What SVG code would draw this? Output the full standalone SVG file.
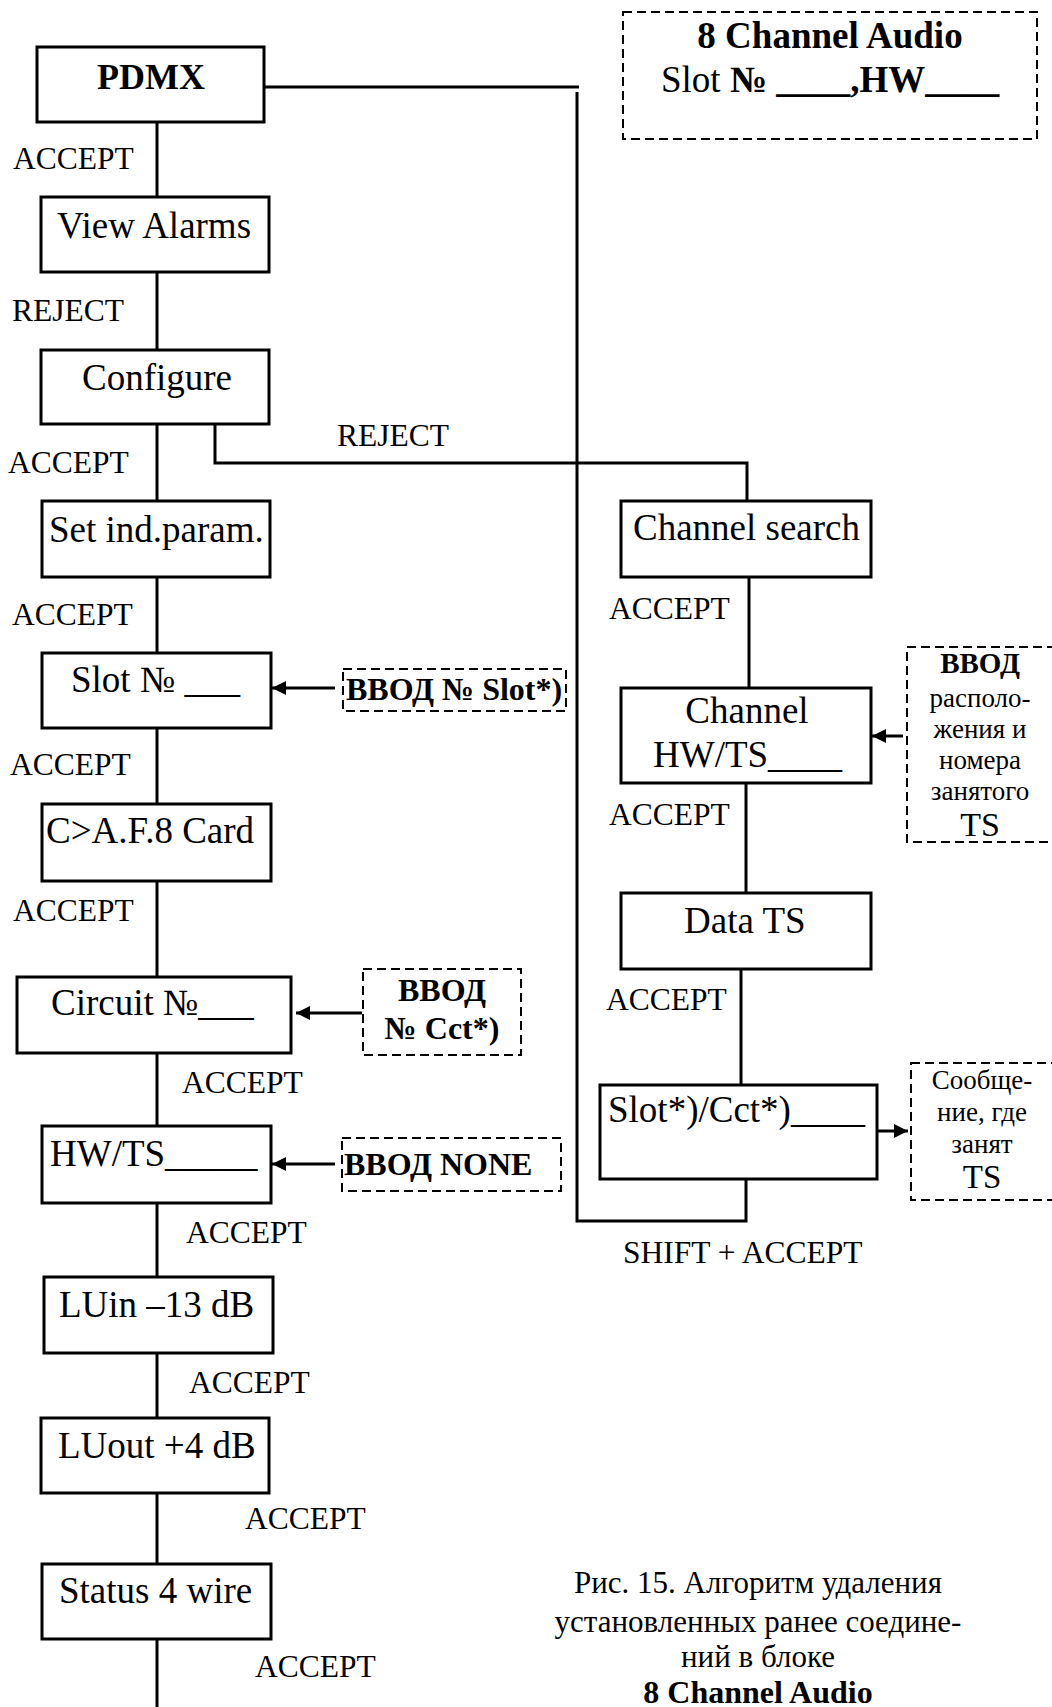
<svg xmlns="http://www.w3.org/2000/svg" width="1052" height="1707" viewBox="0 0 1052 1707">
<style>
text{font-family:"Liberation Serif","Times New Roman",serif;fill:#000}
.box{fill:#fff;stroke:#000;stroke-width:3}
.dash{fill:#fff;stroke:#000;stroke-width:2;stroke-dasharray:9 5}
.ln{fill:none;stroke:#000;stroke-width:3}
.t{font-size:37px}
.lb{font-size:31.5px}
.b{font-weight:bold}
.bd{font-size:32px;font-weight:bold}
.sm{font-size:27px}
.c{text-anchor:middle}
</style>
<defs>
<marker id="ah" viewBox="0 0 14 14" refX="14" refY="7" markerWidth="14" markerHeight="14" markerUnits="userSpaceOnUse" orient="auto"><path d="M0,0 L14,7 L0,14 z" fill="#000"/></marker>
</defs>
<rect width="1052" height="1707" fill="#fff"/>

<g id="connectors">
<polyline class="ln" points="264,87 579,87"/>
<polyline class="ln" points="746,1179 746,1221 577,1221 577,92"/>
<line class="ln" x1="157" y1="122" x2="157" y2="197"/>
<line class="ln" x1="157" y1="272" x2="157" y2="350"/>
<line class="ln" x1="157" y1="424" x2="157" y2="501"/>
<polyline class="ln" points="215,424 215,463 747,463 747,501"/>
<line class="ln" x1="157" y1="577" x2="157" y2="653"/>
<line class="ln" x1="157" y1="728" x2="157" y2="804"/>
<line class="ln" x1="157" y1="881" x2="157" y2="977"/>
<line class="ln" x1="157" y1="1053" x2="157" y2="1126"/>
<line class="ln" x1="157" y1="1203" x2="157" y2="1277"/>
<line class="ln" x1="157" y1="1353" x2="157" y2="1418"/>
<line class="ln" x1="157" y1="1493" x2="157" y2="1564"/>
<line class="ln" x1="157" y1="1639" x2="157" y2="1707"/>
<line class="ln" x1="749" y1="577" x2="749" y2="688"/>
<line class="ln" x1="746" y1="783" x2="746" y2="893"/>
<line class="ln" x1="741" y1="969" x2="741" y2="1085"/>
<line class="ln" x1="335" y1="688" x2="272" y2="688" marker-end="url(#ah)"/>
<line class="ln" x1="362" y1="1013" x2="296" y2="1013" marker-end="url(#ah)"/>
<line class="ln" x1="335" y1="1164" x2="272" y2="1164" marker-end="url(#ah)"/>
<line class="ln" x1="903" y1="736" x2="872" y2="736" marker-end="url(#ah)"/>
<line class="ln" x1="878" y1="1131" x2="908" y2="1131" marker-end="url(#ah)"/>
</g>

<g id="labels">
<text class="lb" x="13" y="169">ACCEPT</text>
<text class="lb" x="12" y="321">REJECT</text>
<text class="lb" x="337" y="446">REJECT</text>
<text class="lb" x="8" y="473">ACCEPT</text>
<text class="lb" x="12" y="625">ACCEPT</text>
<text class="lb" x="10" y="775">ACCEPT</text>
<text class="lb" x="13" y="921">ACCEPT</text>
<text class="lb" x="182" y="1093">ACCEPT</text>
<text class="lb" x="186" y="1243">ACCEPT</text>
<text class="lb" x="189" y="1393">ACCEPT</text>
<text class="lb" x="245" y="1529">ACCEPT</text>
<text class="lb" x="255" y="1677">ACCEPT</text>
<text class="lb" x="609" y="619">ACCEPT</text>
<text class="lb" x="609" y="825">ACCEPT</text>
<text class="lb" x="606" y="1010">ACCEPT</text>
<text class="lb" x="623" y="1263">SHIFT + ACCEPT</text>
</g>

<g id="header">
<rect class="dash" x="623" y="12" width="414" height="127"/>
<text class="b c" x="830" y="48" style="font-size:37px">8 Channel Audio</text>
<text x="661" y="92" style="font-size:37px">Slot <tspan class="b">№ ____,HW____</tspan></text>
</g>

<g id="pdmx"><rect class="box" x="37" y="47" width="227" height="75"/><text class="b c" x="151" y="89" style="font-size:36px">PDMX</text></g>
<g id="view-alarms"><rect class="box" x="41" y="197" width="228" height="75"/><text class="t" x="57" y="238">View Alarms</text></g>
<g id="configure"><rect class="box" x="41" y="350" width="228" height="74"/><text class="t" x="82" y="390">Configure</text></g>
<g id="set-ind-param"><rect class="box" x="42" y="501" width="228" height="76"/><text class="t" x="49" y="542">Set ind.param.</text></g>
<g id="slot"><rect class="box" x="42" y="653" width="229" height="75"/><text class="t" x="71" y="692">Slot № ___</text></g>
<g id="card"><rect class="box" x="42" y="804" width="229" height="77"/><text class="t" x="46" y="843">C&gt;A.F.8 Card</text></g>
<g id="circuit"><rect class="box" x="17" y="977" width="274" height="76"/><text class="t" x="51" y="1015">Circuit №___</text></g>
<g id="hwts"><rect class="box" x="42" y="1126" width="229" height="77"/><text class="t" x="50" y="1166">HW/TS_____</text></g>
<g id="luin"><rect class="box" x="44" y="1277" width="229" height="76"/><text class="t" x="59" y="1317">LUin –13 dB</text></g>
<g id="luout"><rect class="box" x="41" y="1418" width="228" height="75"/><text class="t" x="58" y="1458">LUout +4 dB</text></g>
<g id="status"><rect class="box" x="42" y="1564" width="229" height="75"/><text class="t" x="59" y="1603">Status 4 wire</text></g>

<g id="channel-search"><rect class="box" x="621" y="501" width="250" height="76"/><text class="t" x="633" y="540">Channel search</text></g>
<g id="channel-hwts"><rect class="box" x="621" y="688" width="250" height="95"/><text class="t c" x="747" y="723">Channel</text><text class="t" x="653" y="767">HW/TS____</text></g>
<g id="data-ts"><rect class="box" x="621" y="893" width="250" height="76"/><text class="t" x="684" y="933">Data TS</text></g>
<g id="slot-cct"><rect class="box" x="600" y="1085" width="277" height="94"/><text class="t" x="608" y="1122">Slot*)/Cct*)____</text></g>

<g id="input-slot"><rect class="dash" x="343" y="669" width="223" height="42"/><text class="bd" x="346" y="700">ВВОД № Slot*)</text></g>
<g id="input-cct"><rect class="dash" x="363" y="969" width="158" height="86"/><text class="bd c" x="442" y="1001">ВВОД</text><text class="bd c" x="442" y="1039">№ Cct*)</text></g>
<g id="input-none"><rect class="dash" x="342" y="1138" width="219" height="53"/><text class="bd" x="344" y="1175">ВВОД NONE</text></g>
<g id="input-ts"><rect class="dash" x="907" y="647" width="155" height="195"/>
<text class="c b" x="980" y="673" style="font-size:29px">ВВОД</text>
<text class="sm c" x="980" y="707">располо-</text>
<text class="sm c" x="980" y="738">жения и</text>
<text class="sm c" x="980" y="769">номера</text>
<text class="sm c" x="980" y="800">занятого</text>
<text class="c" x="980" y="836" style="font-size:34px">TS</text></g>
<g id="message-ts"><rect class="dash" x="911" y="1063" width="151" height="137"/>
<text class="sm c" x="982" y="1089">Сообще-</text>
<text class="sm c" x="982" y="1121">ние, где</text>
<text class="sm c" x="982" y="1153">занят</text>
<text class="c" x="982" y="1188" style="font-size:33px">TS</text></g>

<g id="caption">
<text class="c" x="758" y="1593" style="font-size:31px">Рис. 15. Алгоритм удаления</text>
<text class="c" x="758" y="1632" style="font-size:31px">установленных ранее соедине-</text>
<text class="c" x="758" y="1667" style="font-size:31px">ний в блоке</text>
<text class="c b" x="758" y="1703" style="font-size:32px">8 Channel Audio</text>
</g>
</svg>
